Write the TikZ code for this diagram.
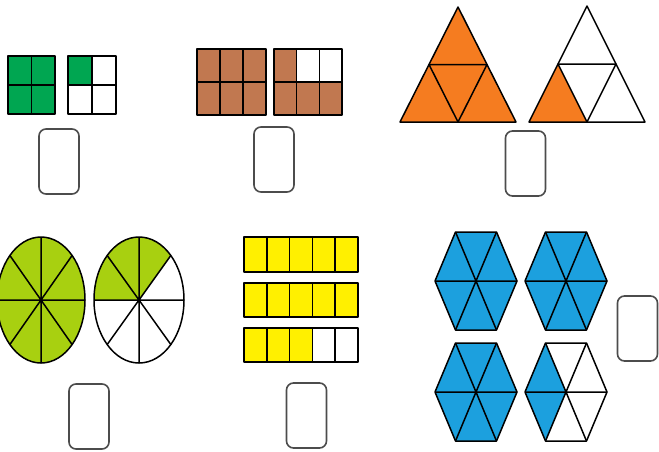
\documentclass[tikz,border=0pt]{standalone}
\definecolor{grn}{RGB}{0,166,81}
\definecolor{brn}{RGB}{193,120,80}
\definecolor{org}{RGB}{245,124,32}
\definecolor{lime}{RGB}{168,208,16}
\definecolor{yel}{RGB}{255,240,0}
\definecolor{blu}{RGB}{28,160,222}
\tikzset{
  ol/.style={draw=black,line width=1.5pt,line join=round},
  ansbox/.style={draw=black!70,line width=1.6pt,rounded corners=7pt,minimum width=40pt,minimum height=65pt,inner sep=0pt}
}
\newcommand\myhex[3]{%
  \begin{scope}[shift={(#1,#2)}]
    \fill[#3] (41,0)--(20.5,-49)--(-20.5,-49)--(-41,0)--(-20.5,49)--(20.5,49)--cycle;
    \draw[ol] (41,0)--(20.5,-49)--(-20.5,-49)--(-41,0)--(-20.5,49)--(20.5,49)--cycle;
    \draw[ol] (-41,0)--(41,0) (-20.5,-49)--(20.5,49) (20.5,-49)--(-20.5,49);
  \end{scope}}
\begin{document}
\begin{tikzpicture}[x=1pt,y=-1pt]
\useasboundingbox (0,0) rectangle (659,451);
% panel 1
\fill[grn] (8,56) rectangle (55,114);
\draw[ol] (8,56) rectangle (55,114) (31.5,56)--(31.5,114) (8,85)--(55,85);
\fill[grn] (68,56) rectangle (92,85);
\draw[ol] (68,56) rectangle (116,114) (92,56)--(92,114) (68,85)--(116,85);
\node[ansbox] (b1) at (59,161.5) {};
% panel 2
\fill[brn] (197,49) rectangle (266,115);
\draw[ol] (197,49) rectangle (266,115) (220,49)--(220,115) (243,49)--(243,115) (197,82)--(266,82);
\fill[brn] (274,49) rectangle (342,115);
\fill[white] (296.7,49) rectangle (342,82);
\draw[ol] (274,49) rectangle (342,115) (296.7,49)--(296.7,115) (319.3,49)--(319.3,115) (274,82)--(342,82);
\node[ansbox] (b2) at (274,159.5) {};
% panel 3
\fill[org] (458,7)--(400,122)--(516,122)--cycle;
\draw[ol] (458,7)--(400,122)--(516,122)--cycle;
\draw[ol] (429,64.5)--(487,64.5)--(458,122)--cycle;
\fill[org] (529,122)--(558,64)--(587,122)--cycle;
\draw[ol] (587,6)--(529,122)--(645,122)--cycle;
\draw[ol] (558,64)--(616,64)--(587,122)--cycle;
\node[ansbox] (b3) at (525.5,163.5) {};
% panel 4
\fill[lime] (41,300) ellipse [x radius=44pt, y radius=63pt];
\draw[ol] (41,300) ellipse [x radius=44pt, y radius=63pt];
\draw[ol] (-3,300)--(85,300) (41,237)--(41,363) (9.9,255.5)--(72.1,344.5) (72.1,255.5)--(9.9,344.5);
\begin{scope}
  \clip (139,300) ellipse [x radius=45pt, y radius=63pt];
  \fill[lime] (139,300)--(30,300)--(30,160)--(229,174)--cycle;
\end{scope}
\draw[ol] (139,300) ellipse [x radius=45pt, y radius=63pt];
\draw[ol] (94,300)--(184,300) (139,237)--(139,363) (107.2,255.5)--(170.8,344.5) (170.8,255.5)--(107.2,344.5);
\node[ansbox] (b4) at (89,416.5) {};
% panel 5
\foreach \ya/\yb in {237/272, 283/317} {
  \fill[yel] (244,\ya) rectangle (358,\yb);
  \draw[ol] (244,\ya) rectangle (358,\yb);
  \foreach \i in {1,...,4} \draw[ol] ({244+22.8*\i},\ya)--({244+22.8*\i},\yb);
}
\fill[yel] (244,328) rectangle (312.4,362);
\draw[ol] (244,328) rectangle (358,362);
\foreach \i in {1,...,4} \draw[ol] ({244+22.8*\i},328)--({244+22.8*\i},362);
\node[ansbox] (b5) at (306.5,415.5) {};
% panel 6
\myhex{476}{281}{blu}
\myhex{566}{281}{blu}
\myhex{476}{392}{blu}
\begin{scope}[shift={(566,392)}]
  \fill[blu] (0,0)--(-20.5,-49)--(-41,0)--(-20.5,49)--cycle;
\end{scope}
\myhex{566}{392}{white,opacity=0}
\node[ansbox] (b6) at (637.5,328.5) {};
\end{tikzpicture}
\end{document}
